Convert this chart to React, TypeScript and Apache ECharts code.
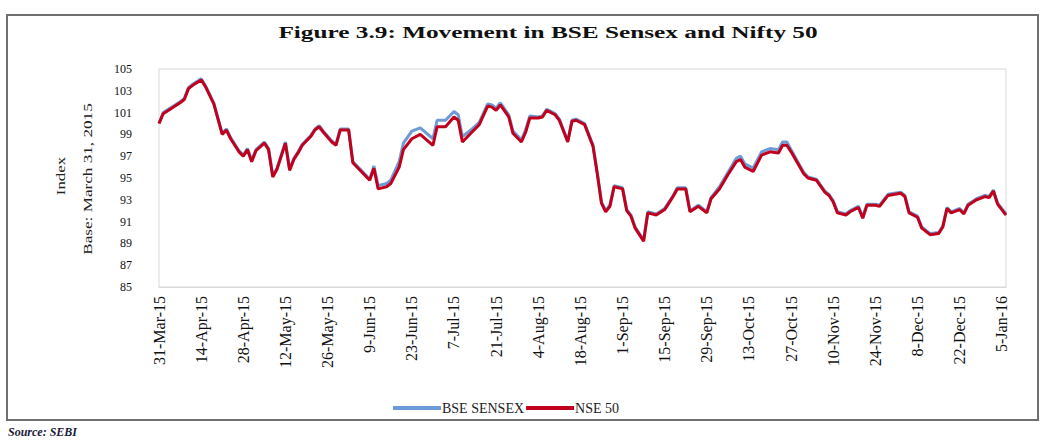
import React, { useEffect, useRef } from "react";
import * as echarts from "echarts";

const tickLabels = [
  "31-Mar-15", "14-Apr-15", "28-Apr-15", "12-May-15", "26-May-15", "9-Jun-15",
  "23-Jun-15", "7-Jul-15", "21-Jul-15", "4-Aug-15", "18-Aug-15", "1-Sep-15",
  "15-Sep-15", "29-Sep-15", "13-Oct-15", "27-Oct-15", "10-Nov-15", "24-Nov-15",
  "8-Dec-15", "22-Dec-15", "5-Jan-16",
];

// [trading-day index from 31-Mar-15, index value]
const nseSeries: [number, number][] = [
  [0, 100.0], [1, 100.9], [3, 101.4], [5, 101.9], [6, 102.2], [7, 103.2], [8, 103.5], [10, 104.0],
  [11, 103.4], [13, 101.8], [14, 100.4], [15, 99.0], [16, 99.4], [17, 98.6], [19, 97.4], [20, 97.0],
  [21, 97.6], [22, 96.5], [23, 97.5], [25, 98.2], [26, 97.6], [27, 95.1], [28, 95.8], [29, 97.0],
  [30, 98.2], [31, 95.7], [32, 96.7], [33, 97.3], [34, 98.0], [36, 98.8], [37, 99.4], [38, 99.7],
  [39, 99.2], [41, 98.3], [42, 98.0], [43, 99.4], [45, 99.4], [46, 96.4], [48, 95.6], [50, 94.8],
  [51, 95.9], [52, 94.0], [54, 94.2], [55, 94.5], [57, 96.0], [58, 97.6], [60, 98.6], [62, 99.0],
  [65, 98.0], [66, 99.7], [68, 99.7], [70, 100.6], [71, 100.3], [72, 98.3], [74, 99.1], [76, 99.9],
  [78, 101.6], [79, 101.5], [80, 101.2], [81, 101.7], [83, 100.6], [84, 99.1], [86, 98.3], [87, 99.2],
  [88, 100.5], [90, 100.5], [91, 100.6], [92, 101.2], [94, 100.8], [95, 100.3], [97, 98.3], [98, 100.2],
  [99, 100.3], [101, 99.9], [103, 97.9], [104, 95.4], [105, 92.7], [106, 91.9], [107, 92.4], [108, 94.2],
  [110, 94.0], [111, 92.0], [112, 91.5], [113, 90.4], [115, 89.2], [116, 91.8], [118, 91.6], [120, 92.1],
  [121, 92.7], [122, 93.3], [123, 94.0], [125, 94.0], [126, 91.9], [128, 92.4], [130, 91.8], [131, 93.1],
  [133, 94.0], [135, 95.3], [137, 96.5], [138, 96.7], [139, 96.0], [141, 95.6], [143, 97.1], [145, 97.4],
  [147, 97.3], [148, 98.0], [149, 98.0], [150, 97.4], [153, 95.4], [154, 95.0], [156, 94.8], [158, 93.7],
  [159, 93.4], [160, 92.8], [161, 91.8], [163, 91.6], [164, 91.9], [166, 92.3], [167, 91.3], [168, 92.5],
  [170, 92.5], [171, 92.4], [173, 93.4], [176, 93.6], [177, 93.3], [178, 91.8], [180, 91.4], [181, 90.4],
  [183, 89.8], [185, 89.9], [186, 90.5], [187, 92.2], [188, 91.8], [190, 92.1], [191, 91.7], [192, 92.5],
  [194, 93.0], [196, 93.3], [197, 93.2], [198, 93.8], [199, 92.6], [201, 91.6],
];

const bseSeries: [number, number][] = [
  [0, 100.0], [1, 101.0], [3, 101.5], [5, 102.0], [6, 102.3], [7, 103.3], [8, 103.6], [10, 104.1],
  [11, 103.5], [13, 101.9], [14, 100.5], [15, 99.1], [16, 99.5], [17, 98.7], [19, 97.5], [20, 97.1],
  [21, 97.7], [22, 96.6], [23, 97.6], [25, 98.3], [26, 97.7], [27, 95.2], [28, 95.9], [29, 97.1],
  [30, 98.3], [31, 95.8], [32, 96.8], [33, 97.4], [34, 98.1], [36, 98.9], [37, 99.5], [38, 99.8],
  [39, 99.3], [41, 98.4], [42, 98.1], [43, 99.5], [45, 99.5], [46, 96.5], [48, 95.7], [50, 94.9],
  [51, 96.1], [52, 94.3], [54, 94.5], [55, 94.8], [57, 96.5], [58, 98.2], [60, 99.3], [62, 99.6],
  [65, 98.6], [66, 100.3], [68, 100.3], [70, 101.1], [71, 100.8], [72, 98.8], [74, 99.4], [76, 100.1],
  [78, 101.8], [79, 101.7], [80, 101.4], [81, 101.9], [83, 100.8], [84, 99.3], [86, 98.5], [87, 99.4],
  [88, 100.7], [90, 100.6], [91, 100.7], [92, 101.3], [94, 100.9], [95, 100.4], [97, 98.4], [98, 100.3],
  [99, 100.4], [101, 100.0], [103, 98.0], [104, 95.5], [105, 92.8], [106, 92.0], [107, 92.5], [108, 94.3],
  [110, 94.1], [111, 92.1], [112, 91.6], [113, 90.5], [115, 89.3], [116, 91.9], [118, 91.7], [120, 92.2],
  [121, 92.8], [122, 93.4], [123, 94.1], [125, 94.1], [126, 92.0], [128, 92.5], [130, 91.9], [131, 93.2],
  [133, 94.2], [135, 95.5], [137, 96.8], [138, 97.0], [139, 96.3], [141, 95.9], [143, 97.4], [145, 97.7],
  [147, 97.6], [148, 98.3], [149, 98.3], [150, 97.6], [153, 95.5], [154, 95.1], [156, 94.9], [158, 93.8],
  [159, 93.5], [160, 92.9], [161, 91.9], [163, 91.7], [164, 92.0], [166, 92.4], [167, 91.4], [168, 92.6],
  [170, 92.6], [171, 92.5], [173, 93.5], [176, 93.7], [177, 93.4], [178, 91.9], [180, 91.5], [181, 90.5],
  [183, 89.9], [185, 90.0], [186, 90.6], [187, 92.3], [188, 91.9], [190, 92.2], [191, 91.8], [192, 92.6],
  [194, 93.1], [196, 93.4], [197, 93.3], [198, 93.9], [199, 92.7], [201, 91.7],
];

const FONT = "'Liberation Serif', 'Times New Roman', serif";

export default function App() {
  const ref = useRef<HTMLDivElement>(null);

  useEffect(() => {
    if (!ref.current) return;
    const chart = echarts.init(ref.current, undefined, { renderer: "svg" });
    chart.setOption({
      animation: false,
      backgroundColor: "#ffffff",
      textStyle: { fontFamily: FONT },
      graphic: [
        {
          type: "rect",
          shape: { x: 7, y: 15, width: 1031, height: 405 },
          style: { fill: "none", stroke: "#707070", lineWidth: 2 },
          silent: true,
        },
        {
          type: "text",
          x: 548,
          y: 33,
          scaleX: 1.58,
          style: {
            text: "Figure 3.9: Movement in BSE Sensex and Nifty 50",
            fontFamily: FONT,
            fontWeight: "bold",
            fontSize: 16,
            fill: "#111",
            textAlign: "center",
            textVerticalAlign: "middle",
          },
        },
        {
          type: "text",
          x: 61,
          y: 176,
          rotation: Math.PI / 2,
          scaleX: 1.3,
          style: {
            text: "Index",
            fontFamily: FONT,
            fontSize: 13,
            fill: "#222",
            textAlign: "center",
            textVerticalAlign: "middle",
          },
        },
        {
          type: "text",
          x: 87,
          y: 179,
          rotation: Math.PI / 2,
          scaleX: 1.32,
          style: {
            text: "Base: March 31, 2015",
            fontFamily: FONT,
            fontSize: 13,
            fill: "#222",
            textAlign: "center",
            textVerticalAlign: "middle",
          },
        },
        {
          type: "text",
          x: 8,
          y: 432,
          style: {
            text: "Source: SEBI",
            fontFamily: FONT,
            fontStyle: "italic",
            fontWeight: "bold",
            fontSize: 12,
            fill: "#1a1a3a",
            textAlign: "left",
            textVerticalAlign: "middle",
          },
        },
      ],
      grid: {
        left: 159,
        right: 37,
        top: 69,
        bottom: 155,
        show: true,
        borderColor: "#d9d9d9",
        borderWidth: 1,
      },
      legend: {
        left: 388,
        top: 396,
        itemGap: 2,
        itemWidth: 48,
        itemHeight: 4,
        icon: "rect",
        textStyle: { fontFamily: FONT, fontSize: 14, color: "#222", padding: [0, 0, 0, -4] },
        data: ["BSE SENSEX", "NSE 50"],
      },
      xAxis: {
        type: "value",
        min: 0,
        max: 201,
        interval: 10,
        axisLine: { show: true, lineStyle: { color: "#d9d9d9" } },
        axisTick: { show: false },
        splitLine: { show: false },
        axisLabel: {
          rotate: 90,
          margin: 9,
          fontFamily: FONT,
          fontSize: 16,
          color: "#111",
          showMaxLabel: false,
          formatter: (v: number) => (v % 10 === 0 ? tickLabels[v / 10] ?? "" : ""),
        },
      },
      yAxis: {
        type: "value",
        min: 85,
        max: 105,
        interval: 1,
        axisLine: { show: false },
        axisTick: { show: false },
        splitLine: { show: false },
        axisLabel: {
          margin: 27,
          fontFamily: FONT,
          fontSize: 12,
          color: "#111",
          formatter: (v: number) => (Math.round(v) % 2 === 1 ? String(v) : ""),
        },
      },
      series: [
        {
          name: "BSE SENSEX",
          type: "line",
          data: bseSeries,
          showSymbol: false,
          symbol: "none",
          lineStyle: { color: "#6c9bd6", width: 3 },
          itemStyle: { color: "#6c9bd6" },
          z: 2,
        },
        {
          name: "NSE 50",
          type: "line",
          data: nseSeries,
          showSymbol: false,
          symbol: "none",
          lineStyle: { color: "#c0001c", width: 3 },
          itemStyle: { color: "#c0001c" },
          z: 3,
        },
      ],
    });
    return () => chart.dispose();
  }, []);

  return (
    <div
      ref={ref}
      style={{ position: "absolute", left: 0, top: 0, width: 1043, height: 442 }}
    />
  );
}
